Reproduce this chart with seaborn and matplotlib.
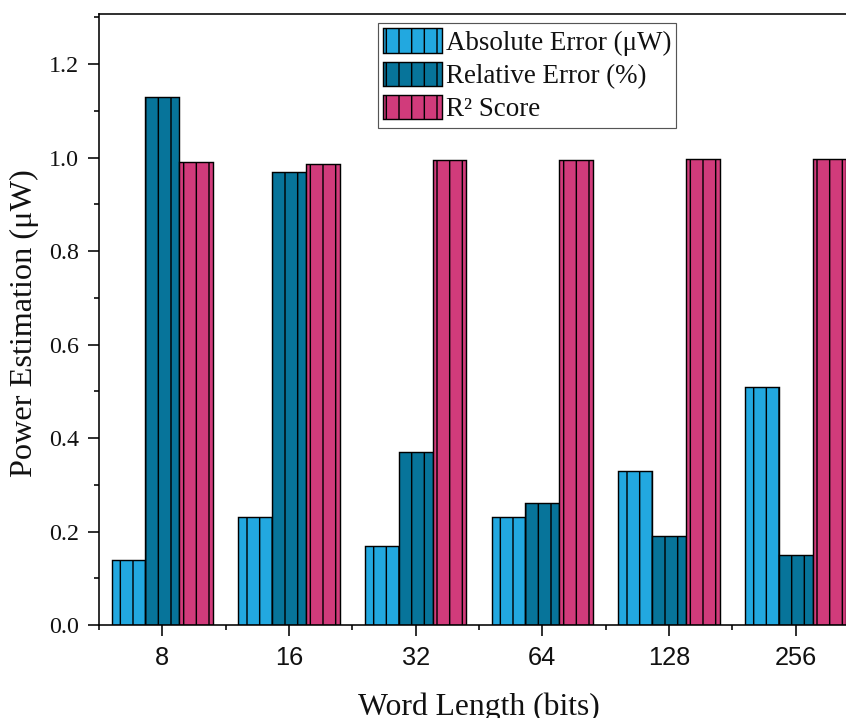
import numpy as np
import pandas as pd
import matplotlib
matplotlib.use("Agg")
import matplotlib.pyplot as plt
from matplotlib.patches import Patch
from matplotlib.ticker import MultipleLocator, FixedLocator, FormatStrFormatter
import seaborn as sns

# ---- data ----
word_lengths = ["8", "16", "32", "64", "128", "256"]
absolute_error = [0.14, 0.23, 0.17, 0.23, 0.33, 0.51]
relative_error = [1.13, 0.97, 0.37, 0.26, 0.19, 0.15]
r2_score = [0.990, 0.986, 0.994, 0.995, 0.997, 0.997]
series_names = ["Absolute Error (\u03bcW)", "Relative Error (%)", "R\u00b2 Score"]
colors = ["#22A8E0", "#07749A", "#D13B7B"]

df = pd.DataFrame({
    "Word Length": word_lengths * 3,
    "Metric": [series_names[0]] * 6 + [series_names[1]] * 6 + [series_names[2]] * 6,
    "Value": absolute_error + relative_error + r2_score,
})

sns.set_style("ticks")
DPI = 76
plt.rcParams["hatch.color"] = "black"
plt.rcParams["hatch.linewidth"] = 1.35
serif = ["Liberation Serif", "DejaVu Serif"]
sans = ["Liberation Sans", "DejaVu Sans"]
plt.rcParams["font.family"] = serif

fig = plt.figure(figsize=(846 / DPI, 718 / DPI), dpi=DPI)
ax = fig.add_axes([99 / 846, 1 - 625 / 718, 760 / 846, 611 / 718])

sns.barplot(data=df, x="Word Length", y="Value", hue="Metric",
            order=word_lengths, hue_order=series_names, palette=colors,
            saturation=1, errorbar=None, width=0.8, edgecolor="black",
            linewidth=1.35, ax=ax, legend=False)

for cont in ax.containers:
    for bar in cont:
        bar.set_hatch("|")

ax.set_xlim(-0.5, 5.5)
ax.set_ylim(0, 1.307)
ax.yaxis.set_major_locator(MultipleLocator(0.2))
ax.yaxis.set_minor_locator(MultipleLocator(0.1))
ax.yaxis.set_major_formatter(FormatStrFormatter("%.1f"))
ax.xaxis.set_minor_locator(FixedLocator(np.arange(-0.5, 6, 1.0)))

for s in ["left", "bottom", "top"]:
    ax.spines[s].set_linewidth(1.5)
    ax.spines[s].set_color("black")
ax.spines["right"].set_visible(False)

ax.tick_params(axis="both", which="major", direction="out", length=10.4, width=1.5, color="black")
ax.tick_params(axis="both", which="minor", direction="out", length=5.2, width=1.5, color="black")
ax.tick_params(axis="y", which="major", pad=8.5, labelsize=22.7, labelcolor="#111111")
ax.tick_params(axis="x", which="major", pad=9.5, labelsize=24, labelcolor="#111111")
for lab in ax.get_xticklabels():
    lab.set_fontfamily(sans)

ax.set_xlabel("Word Length (bits)", fontsize=30, color="#111111")
ax.set_ylabel("Power Estimation (\u03bcW)", fontsize=30.5, color="#111111")
ax.xaxis.set_label_coords(0.5, (625 - 715) / 611)
ax.xaxis.label.set_verticalalignment("baseline")
ax.yaxis.set_label_coords((24 - 99) / 760, (625 - 323) / 611)
ax.yaxis.label.set_verticalalignment("center")

handles = [Patch(facecolor=c, edgecolor="black", hatch="|", linewidth=1.35) for c in colors]
leg = ax.legend(handles, series_names, loc="upper left",
                bbox_to_anchor=(378 / 846, 1 - 23 / 718), bbox_transform=fig.transFigure,
                borderaxespad=0, fontsize=25.6, handlelength=2.15, handleheight=1.0,
                handletextpad=0.15, labelspacing=0.22, borderpad=0.2,
                frameon=True, fancybox=False, framealpha=1, edgecolor="#555555")
leg.get_frame().set_linewidth(1.1)
for t in leg.get_texts():
    t.set_color("#111111")

fig.savefig("out.png", dpi=DPI)
